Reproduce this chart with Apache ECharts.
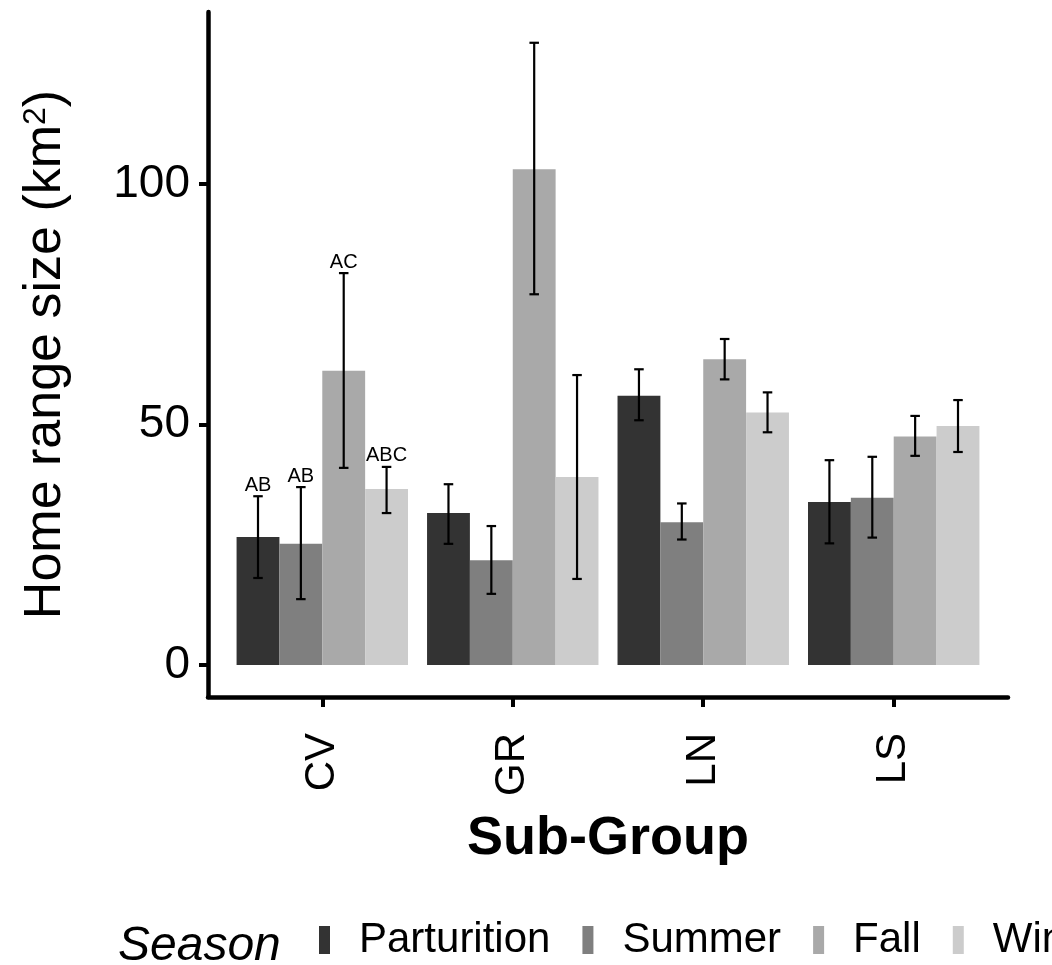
<!DOCTYPE html>
<html>
<head>
<meta charset="utf-8">
<script src="https://cdn.jsdelivr.net/npm/echarts@6/dist/echarts.min.js"></script>
<style>
  html, body { margin: 0; padding: 0; background: #fff; overflow: hidden; width: 1052px; height: 965px; }
  #chart { width: 1300px; height: 965px; }
</style>
</head>
<body>
<div id="chart"></div>
<script>
// Home range size by sub-group and season (mean with error bars)
const categories = ['CV', 'GR', 'LN', 'LS'];
const seasons = ['Parturition', 'Summer', 'Fall', 'Winter'];
const seasonColors = ['#333333', '#7f7f7f', '#a9a9a9', '#cccccc'];

const parturitionMean = [26.6, 31.6, 56.0, 33.9];
const parturitionLow  = [18.1, 25.2, 50.9, 25.3];
const parturitionHigh = [35.1, 37.6, 61.5, 42.6];

const summerMean = [25.2, 21.8, 29.7, 34.8];
const summerLow  = [13.7, 14.8, 26.1, 26.5];
const summerHigh = [37.0, 28.9, 33.6, 43.3];

const fallMean = [61.2, 103.1, 63.6, 47.5];
const fallLow  = [41.0, 77.1, 59.4, 43.5];
const fallHigh = [81.5, 129.4, 67.8, 51.8];

const winterMean = [36.6, 39.1, 52.5, 49.7];
const winterLow  = [31.6, 17.9, 48.4, 44.3];
const winterHigh = [41.2, 60.3, 56.7, 55.1];

// significance letters shown above the CV bars (one per season)
const cvLetters = ['AB', 'AB', 'AC', 'ABC'];

const yTicks = [0, 50, 100];
const xTicks = [1, 2, 3, 4];

const means = [parturitionMean, summerMean, fallMean, winterMean];
const lows = [parturitionLow, summerLow, fallLow, winterLow];
const highs = [parturitionHigh, summerHigh, fallHigh, winterHigh];

const FONT = '"Liberation Sans", Arial, Helvetica, sans-serif';
const GROUP_WIDTH = 0.9;
const DODGE = GROUP_WIDTH / seasons.length;
const CAP = 0.05;

function offsetOf(j) { return (j - (seasons.length - 1) / 2) * DODGE; }

function barSeries(j) {
  return {
    type: 'custom',
    name: seasons[j],
    itemStyle: { color: seasonColors[j] },
    encode: { x: 0, y: 1 },
    z: 2,
    data: categories.map((c, i) => [i + 1, means[j][i]]),
    renderItem(params, api) {
      const xc = api.value(0) + offsetOf(j);
      const p0 = api.coord([xc - DODGE / 2, api.value(1)]);
      const p1 = api.coord([xc + DODGE / 2, 0]);
      return {
        type: 'rect',
        shape: { x: p0[0], y: p0[1], width: p1[0] - p0[0], height: p1[1] - p0[1] },
        style: { fill: seasonColors[j] }
      };
    }
  };
}

function errorSeries(j) {
  return {
    type: 'custom',
    name: seasons[j] + ' error',
    encode: { x: 0, y: [1, 2] },
    z: 3,
    silent: true,
    data: categories.map((c, i) => [i + 1, lows[j][i], highs[j][i]]),
    renderItem(params, api) {
      const xc = api.value(0) + offsetOf(j);
      const top = api.coord([xc, api.value(2)]);
      const bot = api.coord([xc, api.value(1)]);
      const l = api.coord([xc - CAP / 2, api.value(2)])[0];
      const r = api.coord([xc + CAP / 2, api.value(2)])[0];
      const st = { stroke: '#000', lineWidth: 2.2 };
      return {
        type: 'group',
        children: [
          { type: 'line', shape: { x1: top[0], y1: top[1], x2: bot[0], y2: bot[1] }, style: st },
          { type: 'line', shape: { x1: l, y1: top[1], x2: r, y2: top[1] }, style: st },
          { type: 'line', shape: { x1: l, y1: bot[1], x2: r, y2: bot[1] }, style: st }
        ]
      };
    }
  };
}

const letterSeries = {
  type: 'custom',
  name: 'letters',
  encode: { x: 0, y: 1 },
  z: 4,
  silent: true,
  data: cvLetters.map((t, j) => [1 + offsetOf(j), highs[j][0], t]),
  renderItem(params, api) {
    const p = api.coord([api.value(0), api.value(1)]);
    return {
      type: 'text',
      x: p[0], y: p[1] - 1,
      style: {
        text: cvLetters[params.dataIndex],
        fill: '#000', font: '20px ' + FONT,
        textAlign: 'center', textVerticalAlign: 'bottom'
      }
    };
  }
};

const chart = echarts.init(document.getElementById('chart'), null, { renderer: 'canvas' });

chart.setOption({
  backgroundColor: '#fff',
  animation: false,
  textStyle: { fontFamily: FONT, color: '#000' },
  title: {
    text: 'Season',
    left: 113, top: 918,
    textStyle: { fontFamily: FONT, fontStyle: 'italic', fontWeight: 'normal', fontSize: 48, color: '#000' }
  },
  legend: {
    data: seasons,
    left: 314, top: 912,
    icon: 'rect',
    itemWidth: 11, itemHeight: 28, itemGap: 32,
    selectedMode: false,
    textStyle: { fontFamily: FONT, fontSize: 42, color: '#000', padding: [0, 0, 0, 24], lineHeight: 46 }
  },
  grid: { left: 208, right: 292, top: 12, bottom: 268, containLabel: false },
  xAxis: {
    type: 'value', min: 0.4, max: 4.6,
    axisLine: { show: true, onZero: false, lineStyle: { color: '#000', width: 4.5 } },
    axisTick: { show: true, customValues: xTicks, length: 10, lineStyle: { color: '#000', width: 4 } },
    axisLabel: {
      customValues: xTicks, formatter: v => categories[Math.round(v) - 1],
      rotate: 90, fontSize: 42, margin: 36, color: '#000', fontFamily: FONT
    },
    splitLine: { show: false },
    name: 'Sub-Group', nameLocation: 'middle', nameGap: 115,
    nameTextStyle: { fontFamily: FONT, fontSize: 54, fontWeight: 'bold', color: '#000' }
  },
  yAxis: {
    type: 'value', min: -6.65, max: 135.8,
    axisLine: { show: true, onZero: false, lineStyle: { color: '#000', width: 4.5 } },
    axisTick: { show: true, customValues: yTicks, length: 9, lineStyle: { color: '#000', width: 4 } },
    axisLabel: { customValues: yTicks, fontSize: 46, margin: 18, color: '#000', fontFamily: FONT },
    splitLine: { show: false },
    name: 'Home range size (km{sup|2})', nameLocation: 'middle', nameRotate: 90, nameGap: 136,
    nameTextStyle: {
      fontFamily: FONT, fontSize: 52, color: '#000',
      rich: { sup: { fontFamily: FONT, fontSize: 32, color: '#000', verticalAlign: 'top' } }
    }
  },
  series: [
    barSeries(0), barSeries(1), barSeries(2), barSeries(3),
    errorSeries(0), errorSeries(1), errorSeries(2), errorSeries(3),
    letterSeries
  ]
});
</script>
</body>
</html>
